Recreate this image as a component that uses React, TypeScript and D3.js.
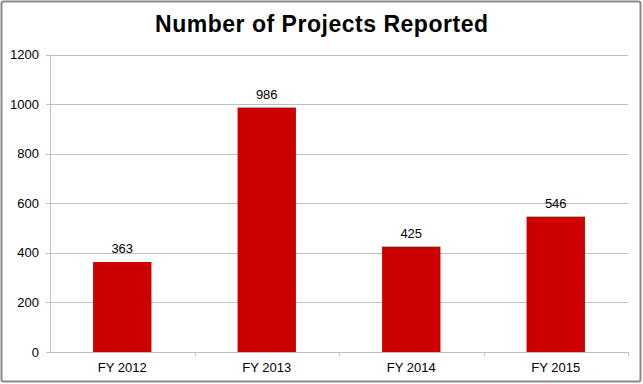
import React from "react";
import * as d3 from "d3";

const categories = ["FY 2012", "FY 2013", "FY 2014", "FY 2015"];
const values = [363, 986, 425, 546];
const yTicks = [0, 200, 400, 600, 800, 1000, 1200];
const title = "Number of Projects Reported";

export default function App() {
  const W = 643, H = 384;
  const left = 50, right = 628, top = 54.5, bottom = 352;
  const x = d3.scaleBand<string>().domain(categories).range([left, right]).paddingInner(0).paddingOuter(0);
  const y = d3.scaleLinear().domain([0, 1200]).range([bottom, top]);
  const bw = x.bandwidth() * 0.404;
  const font = "'Liberation Sans', Arial, sans-serif";
  return (
    <svg width={W} height={H} style={{ position: "absolute", left: 0, top: 0 }} fontFamily={font}>
      <rect x={0} y={0} width={W} height={H} fill="#fff" />
      <rect x={1.5} y={1.5} width={639} height={380} fill="none" stroke="#8a8a8a" strokeWidth={2} rx={2} />
      <text x={321.5} y={31.5} textAnchor="middle" fontSize={23} fontWeight="bold" fill="#000" textLength={333} lengthAdjust="spacing">{title}</text>
      {yTicks.map((t) => (
        <g key={t}>
          <line x1={left - 4} x2={right} y1={Math.round(y(t)) + 0.5} y2={Math.round(y(t)) + 0.5} stroke="#bfbfbf" strokeWidth={1} />
          <text x={39} y={y(t) + 4.5} textAnchor="end" fontSize={13} fill="#000">{t}</text>
        </g>
      ))}
      <line x1={left + 0.5} x2={left + 0.5} y1={top} y2={bottom} stroke="#bfbfbf" />
      {categories.map((c, i) => (
        <line key={"tk" + i} x1={Math.round(x(c)! + x.bandwidth()) + 0.5} x2={Math.round(x(c)! + x.bandwidth()) + 0.5} y1={bottom} y2={bottom + 4} stroke="#bfbfbf" />
      ))}
      {categories.map((c, i) => {
        const cx = x(c)! + x.bandwidth() / 2;
        return (
          <g key={c}>
            <rect x={cx - bw / 2} y={y(values[i])} width={bw} height={bottom - y(values[i])} fill="#cc0000" />
            <text x={cx} y={y(values[i]) - 9} textAnchor="middle" fontSize={13} fill="#000">{values[i]}</text>
            <text x={cx} y={372} textAnchor="middle" fontSize={13} fill="#000">{c}</text>
          </g>
        );
      })}
    </svg>
  );
}
